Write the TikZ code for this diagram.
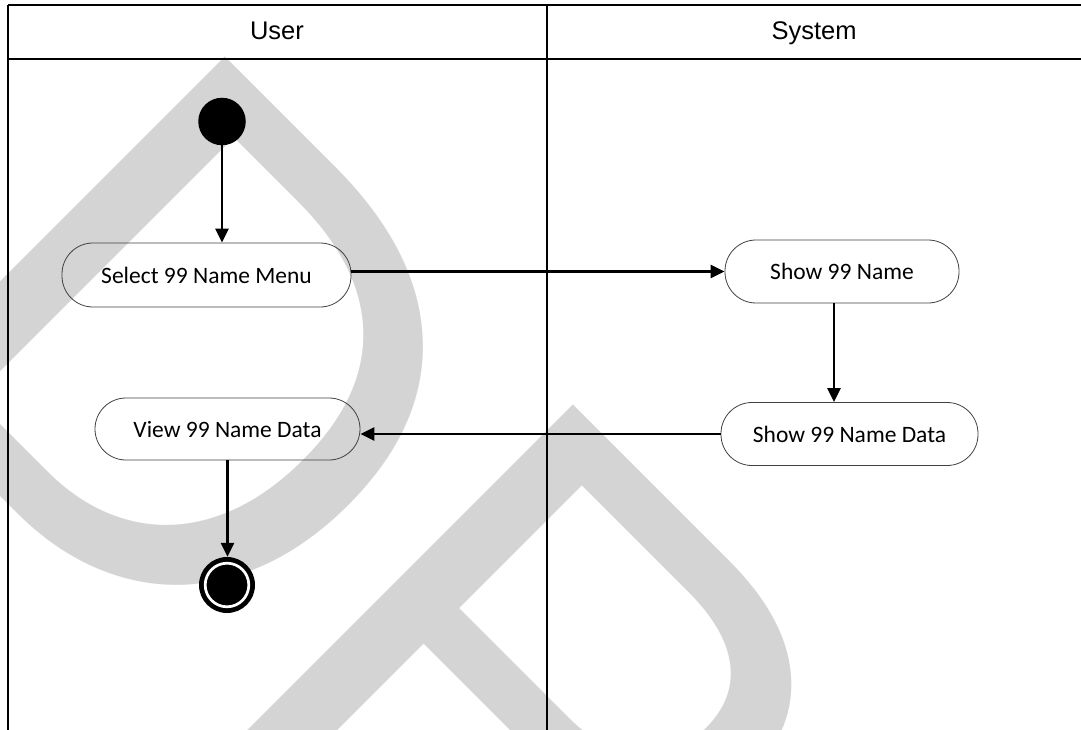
\documentclass[tikz,border=0pt]{standalone}
\usepackage{fontspec}
\usetikzlibrary{arrows.meta}
\newfontfamily\lanefont{Liberation Sans}
\newfontfamily\actfont{Carlito}
\newfontfamily\markfont{Liberation Sans}
\definecolor{markgray}{RGB}{212,212,212}
\begin{document}
\begin{tikzpicture}[x=1pt,y=-1pt,
  lane/.style={line width=1.6pt, draw=black},
  lanetitle/.style={anchor=base, inner sep=0pt, font=\lanefont\fontsize{25.5}{28}\selectfont},
  activity/.style={draw=black!75, line width=0.8pt, rounded corners=31pt, inner sep=0pt,
                   font=\actfont\fontsize{23.5}{26}\selectfont},
  initial/.style={circle, fill=black, inner sep=0pt, minimum size=47.5pt},
  final/.style={circle, fill=black, inner sep=0pt, minimum size=56pt},
  flow/.style={line width=2.8pt, -{Triangle[length=14pt,width=13pt]}}
]
\useasboundingbox (0,0) rectangle (1081,730);

% background watermark
\node[anchor=base west, rotate=-45, inner sep=0pt, text=markgray,
      font=\markfont\fontsize{683}{683}\selectfont] (mark) at (-147,349) {DRAFT};

% swimlane frame
\draw[lane] (8,5) -- (1081,5);
\draw[lane] (8,5) -- (8,730);
\draw[lane] (547,5) -- (547,730);
\draw[lane] (8,59) -- (1081,59);

\node[lanetitle] (usr) at (277,39.5) {User};
\node[lanetitle] (sys) at (814,39.5) {System};

% activities
\node[initial] (start) at (222,121.5) {};
\node[activity, minimum width=289pt, minimum height=64pt] (sel) at (206.5,275) {Select 99 Name Menu};
\node[activity, minimum width=234pt, minimum height=63pt] (show) at (842,271.5) {Show 99 Name};
\node[activity, minimum width=257pt, minimum height=63pt] (data) at (849.5,434) {Show 99 Name Data};
\node[activity, minimum width=265pt, minimum height=62pt] (view) at (227.5,429) {View 99 Name Data};
\node[final] (stop) at (227,585) {};
\draw[white, line width=2.7pt] (stop.center) circle[radius=21.8pt];

% control flow
\coordinate (s1) at ([xshift=-8pt]show.south);
\draw[flow] (start) -- (start |- sel.north);
\draw[flow] (sel.east |- show.west) -- (show.west);
\draw[flow] (s1) -- (s1 |- data.north);
\draw[flow] (data.west) -- (data.west -| view.east);
\draw[flow] (view.south) -- (view.south |- stop.north);
\end{tikzpicture}
\end{document}
